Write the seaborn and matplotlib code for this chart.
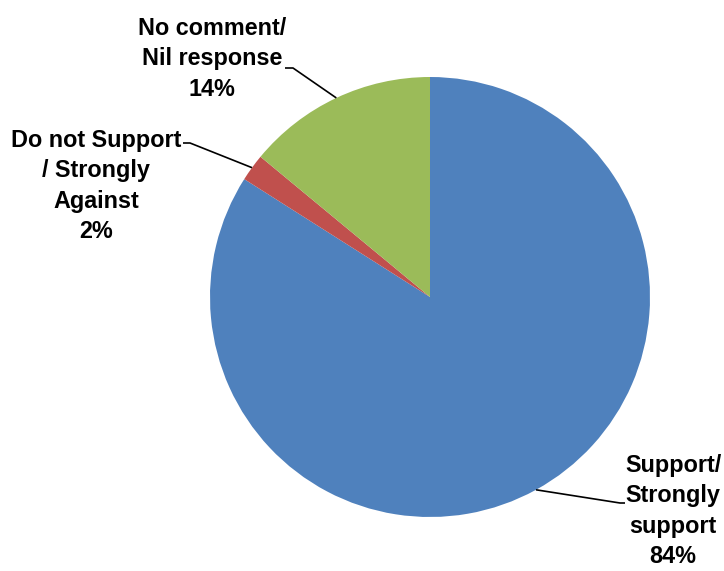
import numpy as np
import matplotlib
matplotlib.use("Agg")
import matplotlib.pyplot as plt
import seaborn as sns

# Survey responses
categories = ["Support/\nStrongly\nsupport", "Do not Support\n/ Strongly\nAgainst", "No comment/\nNil response"]
shares = [84, 2, 14]
colors = ["#4F81BD", "#C0504D", "#9BBB59"]

sns.set_theme(style="white")
plt.rcParams["font.family"] = ["Liberation Sans", "DejaVu Sans"]

W, H = 724, 571
fig = plt.figure(figsize=(W / 100, H / 100), dpi=100)
ax = fig.add_axes([0, 0, 1, 1])

# pie centre and radius in pixels; axes limits map data units onto pixels
cx, cy, R = 430, 297, 220


def px(x, y):
    return (x - cx) / R, (cy - y) / R


wedges, _ = ax.pie(shares, colors=colors, startangle=90, counterclock=False,
                   radius=1, center=(0, 0), frame=True,
                   wedgeprops=dict(linewidth=0))
ax.set_xlim(-cx / R, (W - cx) / R)
ax.set_ylim((cy - H) / R, cy / R)
ax.set_aspect("auto")
ax.axis("off")

# label block centres and leader-line elbows (pixels)
label_pos = [(673, 511), (96, 186), (212, 59)]
elbows = [[(625, 503), (620, 503)],
          [(183, 143), (190, 143)],
          [(285, 68), (293, 68)]]

for w, cat, val, (tx, ty), elb in zip(wedges, categories, shares, label_pos, elbows):
    mid = np.deg2rad((w.theta1 + w.theta2) / 2)
    ex, ey = np.cos(mid), np.sin(mid)
    pts = [px(*p) for p in elb] + [(ex, ey)]
    xs, ys = zip(*pts)
    ax.plot(xs, ys, color="black", lw=1.2, solid_capstyle="butt")
    x, y = px(tx, ty)
    ax.text(x, y, f"{cat}\n{val}%", ha="center", va="center",
            fontsize=16.8, fontweight="bold", linespacing=1.4, color="black")

fig.savefig("out.png", dpi=100, facecolor="white")
